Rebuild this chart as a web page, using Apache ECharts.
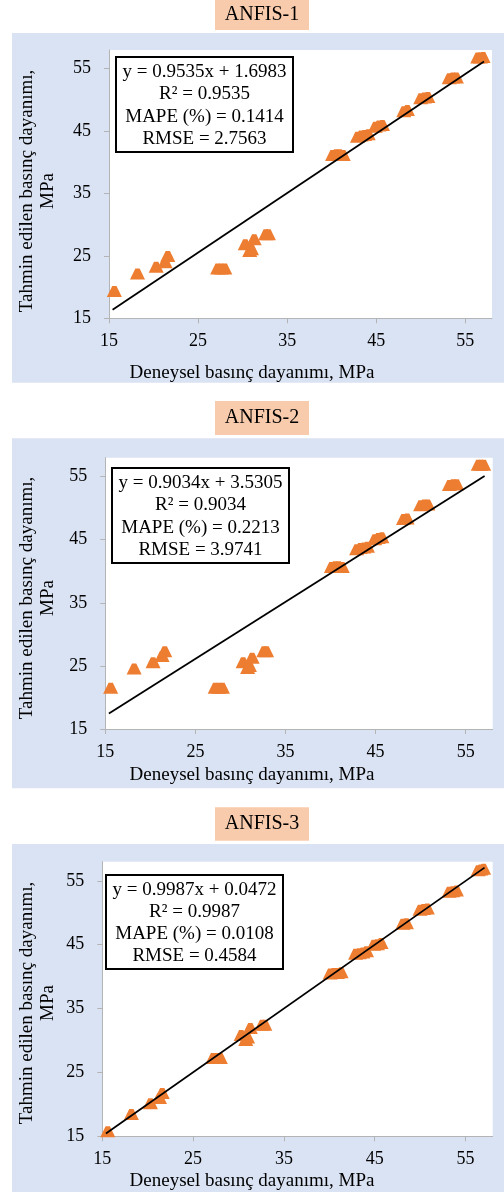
<!DOCTYPE html>
<html><head><meta charset="utf-8">
<script src="https://cdn.jsdelivr.net/npm/echarts@6/dist/echarts.min.js"></script>
<style>html,body{margin:0;padding:0;background:#fff}#c{width:504px;height:1192px}</style>
</head><body><div id="c"></div>
<script>
// ---- data ----
const titles = ['ANFIS-1', 'ANFIS-2', 'ANFIS-3'];
const experimental = [15.6, 18.2, 20.3, 21.3, 21.6, 27.2, 27.6, 28.0, 30.3, 30.8, 31.0, 31.3, 32.6, 32.9,
  40.1, 40.5, 40.9, 41.3, 42.9, 43.3, 43.7, 44.1, 44.9, 45.3, 45.7, 48.1, 48.5, 50.0, 50.4, 50.8,
  53.2, 53.6, 54.0, 56.4, 56.7, 57.0];
const predicted1 = [19.3, 22.1, 23.2, 23.9, 24.9, 22.9, 22.9, 22.9, 26.8, 25.7, 26.0, 27.6, 28.4, 28.4,
  41.1, 41.2, 41.2, 41.1, 44.0, 44.2, 44.3, 44.4, 45.6, 45.8, 45.9, 48.1, 48.3, 50.2, 50.3, 50.4,
  53.4, 53.5, 53.5, 56.7, 56.7, 56.8];
const predicted2 = [21.45, 24.5, 25.5, 26.5, 27.25, 21.45, 21.45, 21.45, 25.5, 24.6, 24.9, 26.2, 27.25, 27.25,
  40.6, 40.7, 40.7, 40.6, 43.4, 43.6, 43.7, 43.8, 45.0, 45.2, 45.3, 48.2, 48.3, 50.4, 50.5, 50.5,
  53.6, 53.7, 53.7, 56.8, 56.8, 56.8];
const predicted3 = [15.7, 18.4, 20.1, 20.9, 21.7, 27.2, 27.2, 27.2, 30.8, 30.0, 30.4, 31.9, 32.4, 32.4,
  40.4, 40.5, 40.5, 40.6, 43.5, 43.6, 43.7, 43.9, 44.9, 45.0, 45.2, 48.2, 48.3, 50.4, 50.5, 50.6,
  53.2, 53.3, 53.4, 56.6, 56.7, 56.8];
const slopes = [0.9535, 0.9034, 0.9987];
const intercepts = [1.6983, 3.5305, 0.0472];
const r2Values = ['0.9535', '0.9034', '0.9987'];
const mapeValues = ['0.1414', '0.2213', '0.0108'];
const rmseValues = ['2.7563', '3.9741', '0.4584'];
const tickValues = [15, 25, 35, 45, 55];
const axisMin = 15, axisMax = 58;
const trendStart = 15.4, trendEnd = 57.1;
const xTitle = 'Deneysel basınç dayanımı, MPa';
const yTitle = 'Tahmin edilen basınç dayanımı,\nMPa';
const predicted = [predicted1, predicted2, predicted3];

// ---- layout ----
const layout = [
  {panelTop: 33, panelBottom: 382.7, titleTop: 0, titleBottom: 30, left: 109, top: 50, right: 492, bottom: 318.3,
   box: [116, 57, 177, 95], xTitleY: 372.7, yTitleY: 191},
  {panelTop: 438.3, panelBottom: 788.3, titleTop: 401, titleBottom: 435, left: 105.3, top: 457.7, right: 492.7, bottom: 729,
   box: [112, 468, 177, 95], xTitleY: 775, yTitleY: 598},
  {panelTop: 844, panelBottom: 1192, titleTop: 807.3, titleBottom: 840.7, left: 102.3, top: 861.7, right: 492.7, bottom: 1136.3,
   box: [106, 875, 177, 94], xTitleY: 1181, yTitleY: 1003}
];
const FONT = '"Liberation Serif", "Times New Roman", serif';
const ORANGE = '#ed7d31';

const grids = [], xAxes = [], yAxes = [], series = [], graphics = [];
layout.forEach((L, i) => {
  grids.push({left: L.left, top: L.top, width: L.right - L.left, height: L.bottom - L.top, containLabel: false});
  const axisCommon = {
    type: 'value', min: axisMin, max: axisMax, gridIndex: i, z: 6,
    splitLine: {show: false},
    axisLine: {show: true, lineStyle: {color: '#b4b4b4', width: 1}},
    axisTick: {show: true, length: 5, customValues: tickValues, lineStyle: {color: '#b4b4b4'}},
  };
  xAxes.push(Object.assign({}, axisCommon, {
    axisLabel: {customValues: tickValues, margin: 14, fontFamily: FONT, fontSize: 18, color: '#000'}
  }));
  yAxes.push(Object.assign({}, axisCommon, {
    axisLabel: {customValues: tickValues, margin: 18, fontFamily: FONT, fontSize: 18, color: '#000'}
  }));
  const pts = experimental.map((x, k) => [x, predicted[i][k]]);
  series.push({
    type: 'scatter', xAxisIndex: i, yAxisIndex: i, z: 8, data: pts, clip: false,
    symbol: 'path://M5,0L9,0L14,10L0,10Z', symbolSize: [15, 11],
    itemStyle: {color: ORANGE, opacity: 1}
  });
  series.push({
    type: 'line', xAxisIndex: i, yAxisIndex: i, z: 9, symbol: 'none', silent: true,
    data: [[trendStart, slopes[i] * trendStart + intercepts[i]], [trendEnd, slopes[i] * trendEnd + intercepts[i]]],
    lineStyle: {color: '#000', width: 1.8}
  });
  // blue panel
  graphics.push({type: 'rect', z: 1, shape: {x: 12, y: L.panelTop, width: 492, height: L.panelBottom - L.panelTop},
    style: {fill: '#dae3f3'}});
  // plot area
  graphics.push({type: 'rect', z: 2, shape: {x: L.left, y: L.top, width: L.right - L.left, height: L.bottom - L.top},
    style: {fill: '#ffffff'}});
  // title box
  graphics.push({type: 'rect', z: 10, shape: {x: 215, y: L.titleTop, width: 94, height: L.titleBottom - L.titleTop},
    style: {fill: '#f8cbad'}});
  graphics.push({type: 'text', z: 11, x: 262, y: (L.titleTop + L.titleBottom) / 2,
    style: {text: titles[i], font: '20px ' + FONT, fill: '#000', align: 'center', verticalAlign: 'middle'}});
  // equation box
  const [bx, by, bw, bh] = L.box;
  graphics.push({type: 'rect', z: 10, shape: {x: bx, y: by, width: bw, height: bh},
    style: {fill: '#fff', stroke: '#000', lineWidth: 2}});
  const eq = 'y = ' + slopes[i].toFixed(4) + 'x + ' + intercepts[i].toFixed(4) + '\nR² = ' + r2Values[i] +
    '\nMAPE (%) = ' + mapeValues[i] + '\nRMSE = ' + rmseValues[i];
  graphics.push({type: 'text', z: 11, x: bx + bw / 2, y: by + bh / 2 + 1,
    style: {text: eq, font: '19px ' + FONT, lineHeight: 22.3, fill: '#000', align: 'center', verticalAlign: 'middle'}});
  // axis titles
  graphics.push({type: 'text', z: 11, x: 252, y: L.xTitleY,
    style: {text: xTitle, font: '19px ' + FONT, fill: '#000', align: 'center', verticalAlign: 'middle'}});
  graphics.push({type: 'text', z: 11, x: 38, y: L.yTitleY, rotation: Math.PI / 2,
    style: {text: yTitle, font: '19px ' + FONT, lineHeight: 21, fill: '#000', align: 'center', verticalAlign: 'middle'}});
});

const chart = echarts.init(document.getElementById('c'), null, {renderer: 'canvas'});
chart.setOption({
  animation: false,
  backgroundColor: '#ffffff',
  grid: grids, xAxis: xAxes, yAxis: yAxes, series: series,
  graphic: {elements: graphics}
});
</script></body></html>
